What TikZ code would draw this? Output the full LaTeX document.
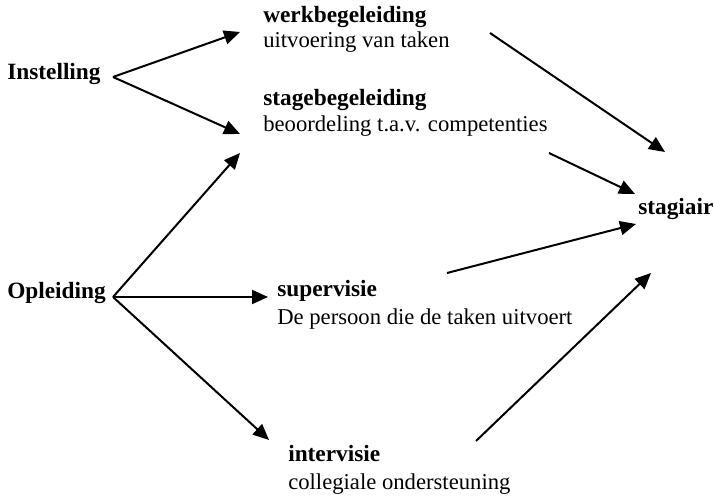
\documentclass[tikz,border=0pt]{standalone}
\usepackage{fontspec}
\setmainfont{Liberation Serif}
\usetikzlibrary{arrows.meta}

\begin{document}
\begin{tikzpicture}[x=0.75pt, y=-0.75pt, font=\fontsize{17}{20}\selectfont,
  lbl/.style={anchor=base west, inner sep=0pt},
  kop/.style={lbl, font=\fontsize{17.5}{20}\selectfont\bfseries},
  pijl/.style={line width=1.5pt, -{Triangle[length=12pt,width=10.5pt]}}]
\useasboundingbox (0,0) rectangle (714,498);
% bronnen
\node[kop] (inst) at (7,80) {Instelling};
\node[kop] (opl) at (7,299) {Opleiding};
% vormen van begeleiding
\node[kop] (werk) at (263,23) {werkbegeleiding};
\node[lbl] (werk-t) at (263,48) {uitvoering van taken};
\node[kop] (stage) at (263,106) {stagebegeleiding};
\node[lbl] (stage-t) at (263,132) {beoordeling t.a.v. competenties};
\node[kop] (super) at (277,297) {supervisie};
\node[lbl] (super-t) at (277,325) {De persoon die de taken uitvoert};
\node[kop] (inter) at (288,462) {intervisie};
\node[lbl] (inter-t) at (288,490) {collegiale ondersteuning};
\node[kop] (stag) at (638,215) {stagiair};
% eindpunten van de pijlen
\coordinate (inst-uit) at (113,77);
\coordinate (opl-uit) at (113,297);
\coordinate (werk-in) at (240,32);
\coordinate (stage-in1) at (240,134);
\coordinate (stage-in2) at (240,153);
\coordinate (super-in) at (268,297);
\coordinate (inter-in) at (269,440);
\coordinate (werk-uit) at (490,33);
\coordinate (stage-uit) at (549,153);
\coordinate (super-uit) at (447,273);
\coordinate (inter-uit) at (476,441);
\coordinate (stag-in1) at (665,152);
\coordinate (stag-in2) at (635,194);
\coordinate (stag-in3) at (636,224);
\coordinate (stag-in4) at (651,273);
% pijlen
\draw[pijl] (inst-uit) -- (werk-in);
\draw[pijl] (inst-uit) -- (stage-in1);
\draw[pijl] (opl-uit) -- (stage-in2);
\draw[pijl] (opl-uit) -- (super-in);
\draw[pijl] (opl-uit) -- (inter-in);
\draw[pijl] (werk-uit) -- (stag-in1);
\draw[pijl] (stage-uit) -- (stag-in2);
\draw[pijl] (super-uit) -- (stag-in3);
\draw[pijl] (inter-uit) -- (stag-in4);
\end{tikzpicture}
\end{document}
